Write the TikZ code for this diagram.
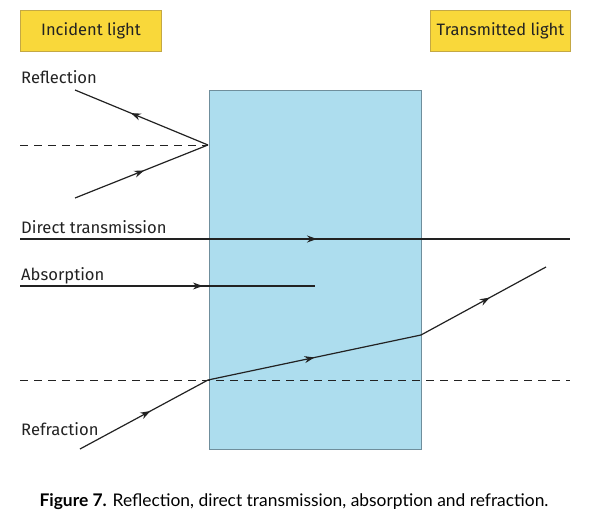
\documentclass[tikz,border=0pt]{standalone}
\usepackage{fontspec}
\setmainfont{Fira Sans}
\newfontfamily\capfont{Lato}
\usetikzlibrary{arrows.meta,decorations.markings}
\definecolor{tagfill}{HTML}{F9D83A}
\definecolor{tagedge}{HTML}{C4A844}
\definecolor{glassfill}{HTML}{ADDDEE}
\definecolor{glassedge}{HTML}{6F8E9C}
\definecolor{ink}{HTML}{222222}
\tikzset{
  tag/.style={draw=tagedge, fill=tagfill, line width=1pt, minimum height=41pt, inner sep=0pt, text=ink, font=\fontsize{16.5}{18}\selectfont},
  lbl/.style={anchor=base west, inner sep=0pt, text=ink, font=\fontsize{16.6}{18}\selectfont},
  ray/.style={draw=ink, line width=1.2pt},
  guide/.style={draw=ink, line width=0.9pt, dash pattern=on 8pt off 6pt},
  midarrow/.style={postaction={decorate}, decoration={markings, mark=at position #1 with {\arrow{Stealth[length=10pt,width=7pt]}}}}
}
\begin{document}
\begin{tikzpicture}[x=1pt,y=-1pt]
\useasboundingbox (0,0) rectangle (592,519);
% glass block
\node[draw=glassedge, fill=glassfill, line width=1.2pt, minimum width=212pt, minimum height=359pt, inner sep=0pt, anchor=north west] (glass) at (209,90) {};
% tags
\node[tag, minimum width=141pt, anchor=north west] (inc) at (20,10) {Incident light};
\node[tag, minimum width=140pt, anchor=north west] (trans) at (430,10) {Transmitted light};
% labels
\node[lbl] (lrefl) at (21,84) {Reflection};
\node[lbl] (ldirect) at (21,233) {Direct transmission};
\node[lbl] (labs) at (21,280) {Absorption};
\node[lbl] (lrefr) at (21,435) {Refraction};
% points
\coordinate (rin) at (75,198);
\coordinate (rhit) at (208,145);
\coordinate (rout) at (75,90);
\coordinate (rnorm) at (20,145);
\coordinate (dA) at (20,239);
\coordinate (dB) at (570,239);
\coordinate (aA) at (20,286);
\coordinate (aB) at (315,286);
\coordinate (fA) at (80,449);
\coordinate (fB) at (208,380);
\coordinate (fC) at (421,335);
\coordinate (fD) at (546,267);
\coordinate (nA) at (20,380);
\coordinate (nB) at (570,380);
% guides
\draw[guide] (rnorm) -- (rhit);
\draw[guide] (nA) -- (nB);
% reflection
\draw[ray, midarrow=0.52] (rin) -- (rhit);
\draw[ray, midarrow=0.58] (rhit) -- (rout);
% direct transmission
\draw[ray, midarrow=0.54] (dA) -- (dB);
% absorption
\draw[ray, midarrow=0.62] (aA) -- (aB);
% refraction
\draw[ray, midarrow=0.55] (fA) -- (fB);
\draw[ray, midarrow=0.5] (fB) -- (fC);
\draw[ray, midarrow=0.55] (fC) -- (fD);
% caption
\node[anchor=base, inner sep=0pt, text=black, font=\capfont\fontsize{17.4}{19}\selectfont] (cap) at (294,506) {\textbf{Figure 7.} Reflection, direct transmission, absorption and refraction.};
\end{tikzpicture}
\end{document}
